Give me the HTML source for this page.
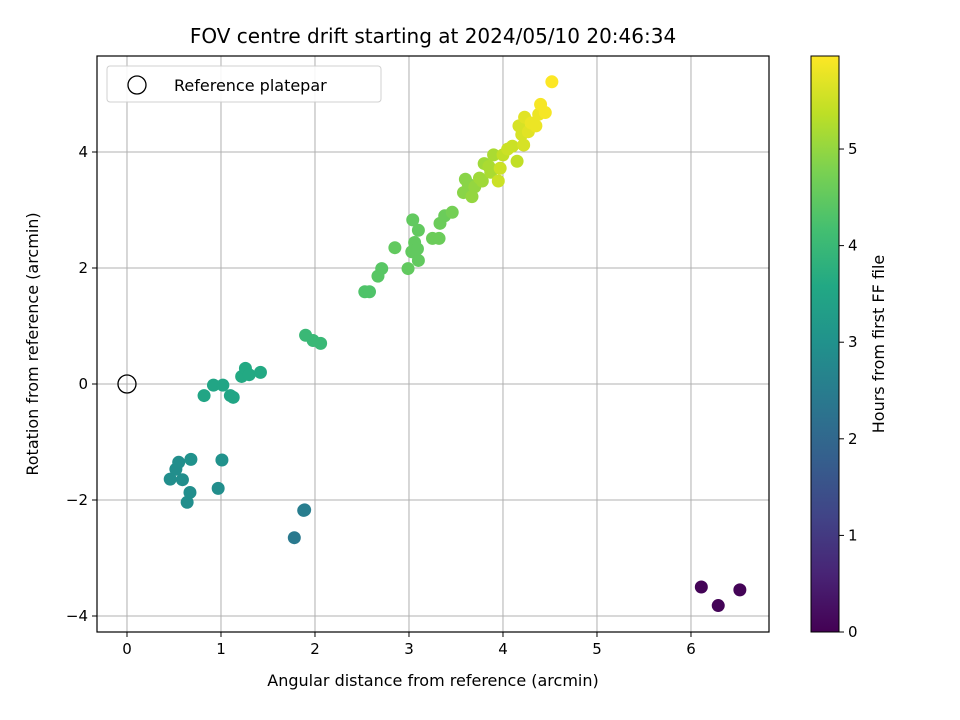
<!DOCTYPE html>
<html><head><meta charset="utf-8"><style>
body{margin:0;background:#fff;}
svg{display:block;font-family:"DejaVu Sans","Liberation Sans",sans-serif;}
</style></head><body>
<svg id="chart" width="960" height="720" viewBox="0 0 960 720" xmlns="http://www.w3.org/2000/svg">
<defs>
<linearGradient id="vir" x1="0" y1="1" x2="0" y2="0">
<stop offset="0" stop-color="#440154"/><stop offset="0.1" stop-color="#482475"/><stop offset="0.2" stop-color="#414487"/><stop offset="0.3" stop-color="#355f8d"/><stop offset="0.4" stop-color="#2a788e"/><stop offset="0.5" stop-color="#21918c"/><stop offset="0.6" stop-color="#22a884"/><stop offset="0.7" stop-color="#44bf70"/><stop offset="0.8" stop-color="#7ad151"/><stop offset="0.9" stop-color="#bddf26"/><stop offset="1" stop-color="#fde725"/>
</linearGradient>
</defs>
<text x="433" y="43" font-size="20" text-anchor="middle">FOV centre drift starting at 2024/05/10 20:46:34</text>
<g id="grid"></g>
<g id="pts"></g>
<rect x="97" y="56" width="672" height="576" fill="none" stroke="#000" stroke-width="1.2"/>
<g id="ticks"></g>
<text x="433" y="686" font-size="16" text-anchor="middle">Angular distance from reference (arcmin)</text>
<text transform="translate(38,344) rotate(-90)" font-size="16" text-anchor="middle">Rotation from reference (arcmin)</text>
<g>
<rect x="107" y="66" width="274" height="36" rx="3" fill="#fff" stroke="#ccc" opacity="0.9"/>
<circle cx="137" cy="85" r="9" fill="none" stroke="#000" stroke-width="1.3"/>
<text x="174" y="91" font-size="16">Reference platepar</text>
</g>
<rect x="811" y="56" width="28" height="576" fill="url(#vir)" stroke="#000" stroke-width="1"/>
<g id="cbticks"></g>
<text transform="translate(884,344) rotate(-90)" font-size="16" text-anchor="middle">Hours from first FF file</text>
</svg>
<script>
const xTicks=[0,1,2,3,4,5,6];
const yTicks=[-4,-2,0,2,4];
const cTicks=[0,1,2,3,4,5];
const xs=[6.11,6.29,6.52,1.78,1.88,1.89,0.46,0.52,0.55,0.59,0.64,0.67,0.68,0.97,1.01,0.82,0.92,1.02,1.10,1.13,1.22,1.26,1.30,1.42,1.90,1.98,2.06,2.53,2.58,2.67,2.71,2.85,2.99,3.03,3.04,3.06,3.10,3.10,3.09,3.25,3.32,3.33,3.38,3.46,3.58,3.60,3.63,3.67,3.70,3.75,3.78,3.80,3.85,3.87,3.90,3.95,3.97,4.00,4.05,4.10,4.15,4.17,4.20,4.22,4.23,4.27,4.30,4.35,4.38,4.40,4.45,4.52];
const ys=[-3.5,-3.82,-3.55,-2.65,-2.18,-2.17,-1.64,-1.47,-1.35,-1.65,-2.04,-1.87,-1.3,-1.8,-1.31,-0.2,-0.02,-0.02,-0.2,-0.23,0.13,0.27,0.16,0.2,0.84,0.75,0.7,1.59,1.59,1.86,1.99,2.35,1.99,2.28,2.83,2.44,2.13,2.65,2.33,2.51,2.51,2.77,2.9,2.96,3.3,3.53,3.45,3.23,3.4,3.55,3.5,3.8,3.75,3.65,3.95,3.5,3.72,3.95,4.05,4.1,3.84,4.45,4.3,4.12,4.6,4.35,4.5,4.45,4.65,4.82,4.68,5.21];
const hours=[0.05,0.05,0.05,2.4,2.5,2.5,2.9,2.9,2.9,2.9,2.9,2.9,3.0,2.9,3.0,3.5,3.5,3.5,3.5,3.5,3.6,3.6,3.6,3.6,4.0,4.0,4.0,4.3,4.3,4.4,4.4,4.5,4.5,4.5,4.5,4.5,4.5,4.5,4.5,4.6,4.6,4.6,4.6,4.7,4.9,4.9,4.9,5.0,5.0,5.1,5.1,5.1,5.2,5.2,5.2,5.5,5.5,5.4,5.5,5.5,5.4,5.6,5.6,5.6,5.7,5.7,5.8,5.8,5.8,5.9,5.9,5.95];
const X0=97,X1=769,Y0=56,Y1=632,xmin=-0.319,xmax=6.83,ymin=-4.276,ymax=5.655,cmax=5.963;
const sx=v=>X0+(v-xmin)/(xmax-xmin)*(X1-X0);
const sy=v=>Y1-(v-ymin)/(ymax-ymin)*(Y1-Y0);
const sc=v=>632-v/cmax*576;
const stops=["#440154","#482475","#414487","#355f8d","#2a788e","#21918c","#22a884","#44bf70","#7ad151","#bddf26","#fde725"];
function hex(h){return [1,3,5].map(i=>parseInt(h.substr(i,2),16));}
function vir(t){t=Math.max(0,Math.min(1,t))*10;const i=Math.min(9,Math.floor(t)),f=t-i;const a=hex(stops[i]),b=hex(stops[i+1]);return "rgb("+a.map((v,k)=>Math.round(v+(b[k]-v)*f)).join(",")+")";}
const NS="http://www.w3.org/2000/svg";
function mk(tag,attrs,parent,txt){const e=document.createElementNS(NS,tag);for(const k in attrs)e.setAttribute(k,attrs[k]);if(txt!==undefined)e.textContent=txt;parent.appendChild(e);return e;}
const grid=document.getElementById('grid'),ticks=document.getElementById('ticks'),pts=document.getElementById('pts'),cb=document.getElementById('cbticks');
xTicks.forEach(v=>{const x=sx(v);
const g=mk('line',{x1:x,x2:x,y1:Y0,y2:Y1,stroke:'#b0b0b0','stroke-width':1},grid);


mk('line',{x1:x,x2:x,y1:Y1,y2:Y1+5,stroke:'#000'},ticks);
const t=mk('text',{x:x,y:Y1+22,'font-size':15,'text-anchor':'middle'},ticks,String(v));

});
yTicks.forEach(v=>{const y=sy(v);
const g=mk('line',{x1:X0,x2:X1,y1:y,y2:y,stroke:'#b0b0b0','stroke-width':1},grid);


mk('line',{x1:X0-5,x2:X0,y1:y,y2:y,stroke:'#000'},ticks);
const t=mk('text',{x:X0-9,y:y+5,'font-size':15,'text-anchor':'end'},ticks,v<0?'\u2212'+(-v):String(v));

});
cTicks.forEach(v=>{const y=sc(v);
mk('line',{x1:839,x2:844,y1:y,y2:y,stroke:'#000'},cb);
const t=mk('text',{x:848,y:y+5,'font-size':15},cb,String(v));

});
const ref=mk('circle',{cx:sx(0),cy:sy(0),r:9,fill:'none',stroke:'#000','stroke-width':1.3},pts);


xs.forEach((v,i)=>{const c=mk('circle',{cx:sx(v),cy:sy(ys[i]),r:6.5,fill:vir(hours[i]/cmax)},pts);

});
</script>
</body></html>
